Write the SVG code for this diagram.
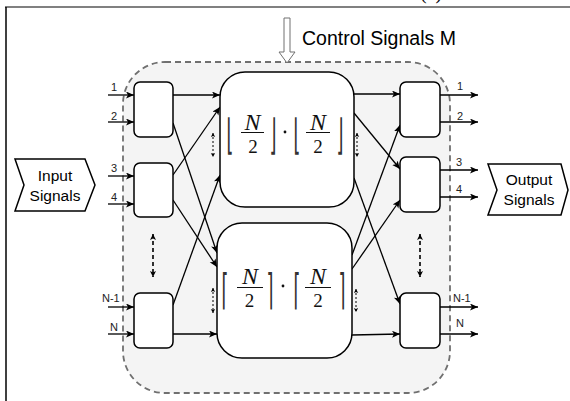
<svg xmlns="http://www.w3.org/2000/svg" width="570" height="401" viewBox="0 0 570 401">
<style>
.lbl{font-family:"Liberation Sans",Arial,sans-serif;font-size:11px;fill:#222}
.big{font-family:"Liberation Sans",Arial,sans-serif;font-size:15.5px;fill:#000;text-anchor:middle}
.ctl{font-family:"Liberation Sans",Arial,sans-serif;font-size:19.5px;fill:#000}
.sw{fill:#fff;stroke:#000;stroke-width:1.5}
.ln{stroke:#000;stroke-width:1.3;fill:none}
.mN{font-family:"Liberation Serif","Times New Roman",serif;font-style:italic;font-size:24px;text-anchor:middle;fill:#111}
.m2{font-family:"Liberation Serif","Times New Roman",serif;font-size:19px;text-anchor:middle;fill:#111}
.br{font-family:"DejaVu Sans",sans-serif;font-size:15px;text-anchor:middle;fill:#333}
.fb{stroke:#111;stroke-width:1}
.dd{stroke:#000;stroke-width:1.6;stroke-dasharray:4 3;fill:none}
.ds{stroke:#000;stroke-width:1;stroke-dasharray:2 2;fill:none}
</style>
<defs>
<marker id="ar" markerUnits="userSpaceOnUse" markerWidth="9" markerHeight="8" refX="8" refY="3.5" orient="auto"><path d="M0,0 L8,3.5 L0,7 L2,3.5z" fill="#000"/></marker>
<marker id="ab" markerUnits="userSpaceOnUse" markerWidth="8" markerHeight="8" refX="6" refY="3" orient="auto-start-reverse"><path d="M0,0 L6,3 L0,6 L1.5,3z" fill="#000"/></marker>
<marker id="as" markerUnits="userSpaceOnUse" markerWidth="6" markerHeight="6" refX="4" refY="2.2" orient="auto-start-reverse"><path d="M0,0 L4,2.2 L0,4.4 L1,2.2z" fill="#000"/></marker>
</defs>
<rect width="570" height="401" fill="#fff"/>
<text x="420" y="-1" style="font-family:'Liberation Serif',serif;font-size:20px">(a)</text>
<line x1="5" y1="7" x2="570" y2="7" stroke="#808080" stroke-width="2"/>
<line x1="6" y1="7" x2="6" y2="401" stroke="#000" stroke-width="1.5"/>

<g id="container">
<rect x="123" y="62" width="327" height="331" rx="42" fill="#f4f4f4" stroke="#707070" stroke-width="1.8" stroke-dasharray="6 4"/>
</g>

<g id="control">
<polygon points="284,18 290,18 290,52 295,52 287,63 279,52 284,52" fill="#fff" stroke="#707070" stroke-width="1"/>
<text class="ctl" x="302" y="45">Control Signals M</text>
</g>

<g id="input-signals">
<polygon points="15,159 85,159 95,185 85,211 15,211 24,185" fill="#fff" stroke="#000" stroke-width="1.5"/>
<text class="big" x="55" y="181">Input</text>
<text class="big" x="55" y="201">Signals</text>
</g>
<g id="output-signals">
<polygon points="488,164 561,164 568,190 561,215 488,215 497,190" fill="#fff" stroke="#000" stroke-width="1.5"/>
<text class="big" x="529" y="185">Output</text>
<text class="big" x="529" y="205">Signals</text>
</g>

<g id="connectors">
<line class="ln" x1="108" y1="95" x2="134" y2="95" marker-end="url(#ar)"/>
<line class="ln" x1="108" y1="122" x2="134" y2="122" marker-end="url(#ar)"/>
<line class="ln" x1="108" y1="176" x2="134" y2="176" marker-end="url(#ar)"/>
<line class="ln" x1="108" y1="204" x2="134" y2="204" marker-end="url(#ar)"/>
<line class="ln" x1="108" y1="307" x2="134" y2="307" marker-end="url(#ar)"/>
<line class="ln" x1="108" y1="334" x2="134" y2="334" marker-end="url(#ar)"/>
<line class="ln" x1="173" y1="95" x2="220" y2="95" marker-end="url(#ar)"/>
<line class="ln" x1="173" y1="123" x2="217" y2="253" marker-end="url(#ar)"/>
<line class="ln" x1="173" y1="175" x2="220" y2="107" marker-end="url(#ar)"/>
<line class="ln" x1="173" y1="200" x2="217" y2="267" marker-end="url(#ar)"/>
<line class="ln" x1="173" y1="305" x2="220" y2="175" marker-end="url(#ar)"/>
<line class="ln" x1="173" y1="334" x2="217" y2="334" marker-end="url(#ar)"/>
<line class="ln" x1="354" y1="94" x2="400" y2="94" marker-end="url(#ar)"/>
<line class="ln" x1="354" y1="113" x2="400" y2="169" marker-end="url(#ar)"/>
<line class="ln" x1="354" y1="178" x2="400" y2="304" marker-end="url(#ar)"/>
<line class="ln" x1="352" y1="255" x2="400" y2="125" marker-end="url(#ar)"/>
<line class="ln" x1="352" y1="269" x2="400" y2="200" marker-end="url(#ar)"/>
<line class="ln" x1="352" y1="335" x2="400" y2="334" marker-end="url(#ar)"/>
<line class="ln" x1="440" y1="95" x2="478" y2="95" marker-end="url(#ar)"/>
<line class="ln" x1="440" y1="122" x2="478" y2="122" marker-end="url(#ar)"/>
<line class="ln" x1="440" y1="170" x2="478" y2="170" marker-end="url(#ar)"/>
<line class="ln" x1="440" y1="197" x2="478" y2="197" marker-end="url(#ar)"/>
<line class="ln" x1="440" y1="307" x2="478" y2="307" marker-end="url(#ar)"/>
<line class="ln" x1="440" y1="334" x2="478" y2="334" marker-end="url(#ar)"/>
<line class="dd" x1="153" y1="234" x2="153" y2="277" marker-start="url(#ab)" marker-end="url(#ab)"/>
<line class="dd" x1="420" y1="234" x2="420" y2="277" marker-start="url(#ab)" marker-end="url(#ab)"/>
<line class="ds" x1="213" y1="133" x2="213" y2="157" marker-start="url(#as)" marker-end="url(#as)"/>
<line class="ds" x1="357" y1="133" x2="357" y2="157" marker-start="url(#as)" marker-end="url(#as)"/>
<line class="ds" x1="213" y1="288" x2="213" y2="313" marker-start="url(#as)" marker-end="url(#as)"/>
<line class="ds" x1="356" y1="289" x2="356" y2="312" marker-start="url(#as)" marker-end="url(#as)"/>
</g>

<g id="labels">
<text class="lbl" x="111" y="91">1</text>
<text class="lbl" x="111" y="120">2</text>
<text class="lbl" x="111" y="172">3</text>
<text class="lbl" x="111" y="201">4</text>
<text class="lbl" x="102" y="302">N-1</text>
<text class="lbl" x="110" y="331">N</text>
<text class="lbl" x="457" y="90">1</text>
<text class="lbl" x="457" y="120">2</text>
<text class="lbl" x="456" y="166">3</text>
<text class="lbl" x="456" y="193">4</text>
<text class="lbl" x="453" y="302">N-1</text>
<text class="lbl" x="456" y="327">N</text>
</g>

<g id="switch-in-1"><rect class="sw" x="134" y="82" width="39" height="55" rx="6"/></g>
<g id="switch-in-2"><rect class="sw" x="134" y="163" width="39" height="54" rx="6"/></g>
<g id="switch-in-n"><rect class="sw" x="134" y="293" width="39" height="55" rx="6"/></g>
<g id="switch-out-1"><rect class="sw" x="400" y="82" width="40" height="55" rx="6"/></g>
<g id="switch-out-2"><rect class="sw" x="400" y="157" width="40" height="55" rx="6"/></g>
<g id="switch-out-n"><rect class="sw" x="400" y="293" width="40" height="55" rx="6"/></g>

<g id="sub-floor">
<rect class="sw" x="220" y="72" width="134" height="135" rx="25"/>
<text class="br" transform="translate(230,149) scale(1.2,2.8)">⌊</text>
<text class="br" transform="translate(273,149) scale(1.2,2.8)">⌋</text>
<text class="br" transform="translate(297,149) scale(1.2,2.8)">⌊</text>
<text class="br" transform="translate(340,149) scale(1.2,2.8)">⌋</text>
<text class="mN" x="252.5" y="130">N</text>
<line class="fb" x1="241" y1="132.5" x2="264" y2="132.5"/>
<text class="m2" x="253" y="153">2</text>
<text class="mN" x="318" y="130">N</text>
<line class="fb" x1="306" y1="132.5" x2="330" y2="132.5"/>
<text class="m2" x="318" y="153">2</text>
<circle cx="285" cy="132" r="1.4" fill="#111"/>
</g>

<g id="sub-ceil">
<rect class="sw" x="217" y="223" width="135" height="135" rx="25"/>
<text class="br" transform="translate(225,304) scale(1.2,2.8)">⌈</text>
<text class="br" transform="translate(270,304) scale(1.2,2.8)">⌉</text>
<text class="br" transform="translate(297,304) scale(1.2,2.8)">⌈</text>
<text class="br" transform="translate(342,304) scale(1.2,2.8)">⌉</text>
<text class="mN" x="250" y="284">N</text>
<line class="fb" x1="237" y1="287.5" x2="263" y2="287.5"/>
<text class="m2" x="249.5" y="307">2</text>
<text class="mN" x="318" y="284">N</text>
<line class="fb" x1="305" y1="287.5" x2="331" y2="287.5"/>
<text class="m2" x="318" y="307">2</text>
<circle cx="283" cy="286" r="1.4" fill="#111"/>
</g>
</svg>
